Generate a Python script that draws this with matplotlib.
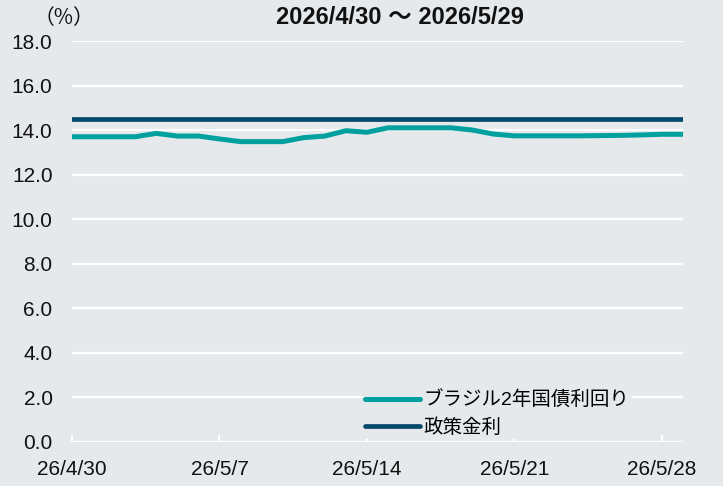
import pandas as pd
import matplotlib
matplotlib.use('Agg')
import matplotlib.pyplot as plt

# daily values 2026/4/30 - 2026/5/29 (weekends carried forward)
dates = pd.date_range('2026-04-30', '2026-05-29', freq='D')
bond_2y = [13.70, 13.70, 13.70, 13.70, 13.85, 13.73, 13.73, 13.60, 13.48, 13.48,
           13.48, 13.66, 13.73, 13.97, 13.90, 14.10, 14.10, 14.10, 14.10, 14.00,
           13.82, 13.74, 13.74, 13.74, 13.74, 13.75, 13.76, 13.78, 13.81, 13.81]
policy_rate = [14.50, 14.50, 14.50, 14.50, 14.50, 14.50, 14.50, 14.50, 14.50, 14.50,
               14.50, 14.50, 14.50, 14.50, 14.50, 14.50, 14.50, 14.50, 14.50, 14.50,
               14.50, 14.50, 14.50, 14.50, 14.50, 14.50, 14.50, 14.50, 14.50, 14.50]
series_names = ['ブラジル2年国債利回り', '政策金利']
tick_dates = pd.to_datetime(['2026-04-30', '2026-05-07', '2026-05-14', '2026-05-21', '2026-05-28'])
tick_labels = ['26/4/30', '26/5/7', '26/5/14', '26/5/21', '26/5/28']
y_ticks = [0, 2, 4, 6, 8, 10, 12, 14, 16, 18]

bg = '#e6e9ec'
teal = '#00a09f'
navy = '#054a6b'
fams = ['Liberation Sans', 'Noto Sans CJK JP']

plt.rcParams['font.family'] = fams

fig = plt.figure(figsize=(7.23, 4.86), dpi=100, facecolor=bg)
ax = fig.add_axes([0.0996, 0.0912, 0.8451, 0.8244], facecolor=bg)

for y in y_ticks:
    ax.axhline(y, color='white', lw=1.6, zorder=1)

ax.plot(dates, bond_2y, color=teal, lw=3.6, solid_capstyle='round',
        solid_joinstyle='round', label=series_names[0], zorder=3)
ax.plot(dates, policy_rate, color=navy, lw=3.4, solid_capstyle='round',
        label=series_names[1], zorder=3)

ax.set_xlim(dates[0], dates[-1])
ax.set_ylim(0, 18)
ax.set_yticks(y_ticks)
ax.set_yticklabels(['%.1f' % v for v in y_ticks])
ax.set_xticks(tick_dates)
ax.set_xticklabels(tick_labels)
for s in ax.spines.values():
    s.set_visible(False)
ax.tick_params(axis='y', length=0, pad=14, labelsize=15, labelcolor='#111111')
ax.tick_params(axis='x', direction='in', length=5, width=1.5, color='white',
               pad=13.5, labelsize=15, labelcolor='#111111')

fig.text(0.5526, 0.963, '2026/4/30 〜 2026/5/29', ha='center', va='center',
         fontsize=17, fontweight='bold', color='#111111')
fig.text(0.088, 0.963, '（%）', ha='center', va='center', fontsize=15,
         color='#111111', family=['Noto Sans CJK JP'])

leg = fig.legend(loc='center left', bbox_to_anchor=(0.502, 0.148), fontsize=14,
                 frameon=True, facecolor=bg, edgecolor='none', framealpha=1,
                 borderpad=0.1, borderaxespad=0, handlelength=2.83,
                 handletextpad=0.2, labelspacing=0.45)
for h in leg.get_lines():
    h.set_solid_capstyle('round')

plt.savefig('out.png', dpi=100, facecolor=bg)
